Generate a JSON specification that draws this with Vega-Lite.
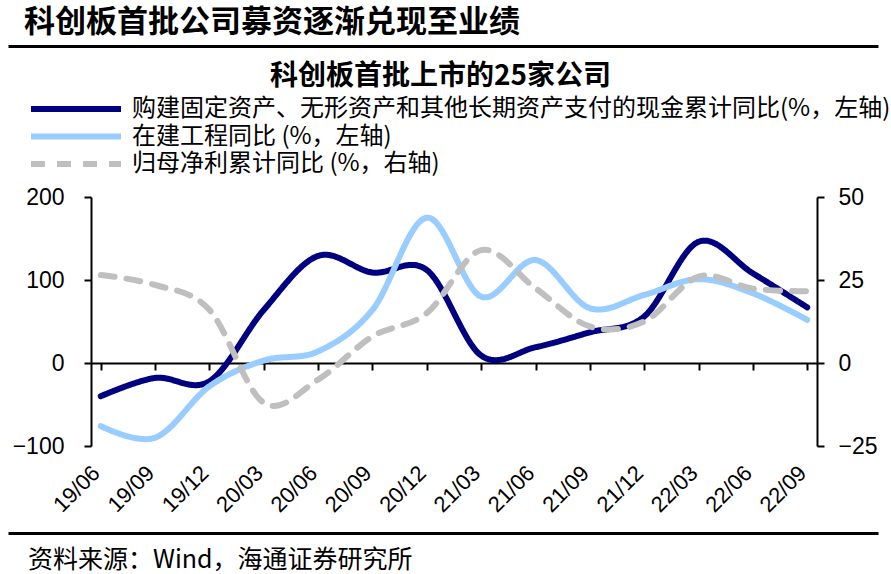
{
  "$schema": "https://vega.github.io/schema/vega-lite/v6.json",
  "padding": {"left": 7, "top": 7, "right": 0, "bottom": 0},
  "background": "white",
  "config": {
    "view": {"stroke": null},
    "axis": {"grid": false, "labelFont": "Liberation Sans", "labelColor": "black", "domainColor": "black", "tickColor": "black"}
  },
  "datasets": {
    "frame": [{"v": 0}],
    "series": [
      {"d": "19/06", "s": "购建固定资产、无形资产和其他长期资产支付的现金累计同比(%，左轴)", "v": -40},
      {"d": "19/09", "s": "购建固定资产、无形资产和其他长期资产支付的现金累计同比(%，左轴)", "v": -18},
      {"d": "19/12", "s": "购建固定资产、无形资产和其他长期资产支付的现金累计同比(%，左轴)", "v": -22},
      {"d": "20/03", "s": "购建固定资产、无形资产和其他长期资产支付的现金累计同比(%，左轴)", "v": 64},
      {"d": "20/06", "s": "购建固定资产、无形资产和其他长期资产支付的现金累计同比(%，左轴)", "v": 129},
      {"d": "20/09", "s": "购建固定资产、无形资产和其他长期资产支付的现金累计同比(%，左轴)", "v": 109},
      {"d": "20/12", "s": "购建固定资产、无形资产和其他长期资产支付的现金累计同比(%，左轴)", "v": 112},
      {"d": "21/03", "s": "购建固定资产、无形资产和其他长期资产支付的现金累计同比(%，左轴)", "v": 9},
      {"d": "21/06", "s": "购建固定资产、无形资产和其他长期资产支付的现金累计同比(%，左轴)", "v": 19},
      {"d": "21/09", "s": "购建固定资产、无形资产和其他长期资产支付的现金累计同比(%，左轴)", "v": 37},
      {"d": "21/12", "s": "购建固定资产、无形资产和其他长期资产支付的现金累计同比(%，左轴)", "v": 56},
      {"d": "22/03", "s": "购建固定资产、无形资产和其他长期资产支付的现金累计同比(%，左轴)", "v": 146},
      {"d": "22/06", "s": "购建固定资产、无形资产和其他长期资产支付的现金累计同比(%，左轴)", "v": 108},
      {"d": "22/09", "s": "购建固定资产、无形资产和其他长期资产支付的现金累计同比(%，左轴)", "v": 67},
      {"d": "19/06", "s": "在建工程同比 (%，左轴)", "v": -76},
      {"d": "19/09", "s": "在建工程同比 (%，左轴)", "v": -90},
      {"d": "19/12", "s": "在建工程同比 (%，左轴)", "v": -28},
      {"d": "20/03", "s": "在建工程同比 (%，左轴)", "v": 3},
      {"d": "20/06", "s": "在建工程同比 (%，左轴)", "v": 14},
      {"d": "20/09", "s": "在建工程同比 (%，左轴)", "v": 64},
      {"d": "20/12", "s": "在建工程同比 (%，左轴)", "v": 175},
      {"d": "21/03", "s": "在建工程同比 (%，左轴)", "v": 80},
      {"d": "21/06", "s": "在建工程同比 (%，左轴)", "v": 124},
      {"d": "21/09", "s": "在建工程同比 (%，左轴)", "v": 66},
      {"d": "21/12", "s": "在建工程同比 (%，左轴)", "v": 82},
      {"d": "22/03", "s": "在建工程同比 (%，左轴)", "v": 101},
      {"d": "22/06", "s": "在建工程同比 (%，左轴)", "v": 84},
      {"d": "22/09", "s": "在建工程同比 (%，左轴)", "v": 52},
      {"d": "19/06", "s": "归母净利累计同比 (%，右轴)", "v": 26.5},
      {"d": "19/09", "s": "归母净利累计同比 (%，右轴)", "v": 23.5},
      {"d": "19/12", "s": "归母净利累计同比 (%，右轴)", "v": 16},
      {"d": "20/03", "s": "归母净利累计同比 (%，右轴)", "v": -12},
      {"d": "20/06", "s": "归母净利累计同比 (%，右轴)", "v": -5},
      {"d": "20/09", "s": "归母净利累计同比 (%，右轴)", "v": 8},
      {"d": "20/12", "s": "归母净利累计同比 (%，右轴)", "v": 15},
      {"d": "21/03", "s": "归母净利累计同比 (%，右轴)", "v": 34},
      {"d": "21/06", "s": "归母净利累计同比 (%，右轴)", "v": 22.5},
      {"d": "21/09", "s": "归母净利累计同比 (%，右轴)", "v": 11},
      {"d": "21/12", "s": "归母净利累计同比 (%，右轴)", "v": 12.5},
      {"d": "22/03", "s": "归母净利累计同比 (%，右轴)", "v": 26},
      {"d": "22/06", "s": "归母净利累计同比 (%，右轴)", "v": 22.4},
      {"d": "22/09", "s": "归母净利累计同比 (%，右轴)", "v": 21.6}
    ]
  },
  "spacing": 17,
  "resolve": {"legend": {"color": "independent", "strokeDash": "independent"}},
  "vconcat": [
    {
      "width": 870,
      "height": 1,
      "title": {"text": "科创板首批公司募资逐渐兑现至业绩", "anchor": "start", "frame": "group", "font": "Noto Sans CJK SC", "fontSize": 31, "fontWeight": "bold", "color": "black", "dx": 16, "offset": 6},
      "data": {"name": "frame"},
      "mark": {"type": "point", "opacity": 0, "size": 1},
      "encoding": {
        "x": {"field": "v", "type": "quantitative", "scale": {"domain": [0, 1]}, "axis": {"orient": "bottom", "labels": false, "ticks": false, "title": null, "minExtent": 0, "domainWidth": 3, "domainColor": "black"}}
      }
    },
    {
      "width": 870,
      "height": 249,
      "title": {"text": "科创板首批上市的25家公司", "anchor": "middle", "frame": "bounds", "font": "Noto Sans CJK SC", "fontSize": 28, "fontWeight": "bold", "color": "black", "offset": 6, "dx": -9},
      "data": {"name": "series"},
      "layer": [
        {
          "transform": [{"filter": "datum.s !== '归母净利累计同比 (%，右轴)'"}],
          "mark": {"type": "line", "interpolate": "cardinal", "tension": 0, "strokeWidth": 6, "strokeCap": "round"},
          "encoding": {
            "x": {"field": "d", "type": "ordinal", "sort": null, "scale": {"type": "point", "padding": 0.18, "range": [83, 809]}, "axis": {"labelAngle": -45, "labelAlign": "right", "labelBaseline": "alphabetic", "labelFontSize": 22, "labelPadding": 28, "ticks": false, "domain": false, "title": null}},
            "y": {"field": "v", "type": "quantitative", "scale": {"domain": [-100, 200]}, "axis": {"orient": "left", "offset": -83, "values": [-100, 0, 100, 200], "title": null, "labelFontSize": 23, "labelPadding": 20, "tickSize": 7, "tickWidth": 2, "domainWidth": 2}},
            "color": {"field": "s", "type": "nominal", "scale": {"domain": ["购建固定资产、无形资产和其他长期资产支付的现金累计同比(%，左轴)", "在建工程同比 (%，左轴)", "归母净利累计同比 (%，右轴)"], "range": ["#000080", "#99CCFF", "#BFBFBF"]},
              "legend": {"orient": "none", "legendX": 20, "legendY": -100, "padding": 0, "title": null, "symbolType": "stroke", "symbolSize": 8100, "symbolStrokeWidth": 6, "labelFont": "Noto Sans CJK SC", "labelFontSize": 24, "labelColor": "black", "labelLimit": 1000, "labelOffset": 8, "rowPadding": 3.5, "clipHeight": 24}},
            "strokeDash": {"field": "s", "type": "nominal", "scale": {"domain": ["购建固定资产、无形资产和其他长期资产支付的现金累计同比(%，左轴)", "在建工程同比 (%，左轴)", "归母净利累计同比 (%，右轴)"], "range": [[1, 0], [1, 0], [14, 12]]}}
          }
        },
        {
          "transform": [{"filter": "datum.s === '归母净利累计同比 (%，右轴)'"}],
          "mark": {"type": "line", "interpolate": "cardinal", "tension": 0, "strokeWidth": 6, "strokeCap": "round"},
          "encoding": {
            "x": {"field": "d", "type": "ordinal", "sort": null, "axis": {"orient": "bottom", "offset": -83, "labels": false, "ticks": true, "tickSize": 7, "tickWidth": 2, "domain": true, "domainWidth": 2, "title": null}},
            "y": {"field": "v", "type": "quantitative", "scale": {"domain": [-25, 50]}, "axis": {"orient": "right", "offset": -61, "values": [-25, 0, 25, 50], "title": null, "labelFontSize": 23, "labelPadding": 14, "tickSize": 7, "tickWidth": 2, "domainWidth": 2}},
            "color": {"field": "s", "type": "nominal"},
            "strokeDash": {"field": "s", "type": "nominal"}
          }
        }
      ],
      "resolve": {"scale": {"y": "independent"}, "axis": {"x": "independent", "y": "independent"}}
    },
    {
      "width": 870,
      "height": 1,
      "title": {"text": "资料来源：Wind，海通证券研究所", "orient": "bottom", "anchor": "start", "frame": "group", "font": "Noto Sans CJK SC", "fontSize": 25, "fontWeight": "normal", "color": "black", "dx": 20, "offset": 14},
      "data": {"name": "frame"},
      "mark": {"type": "point", "opacity": 0, "size": 1},
      "encoding": {
        "x": {"field": "v", "type": "quantitative", "scale": {"domain": [0, 1]}, "axis": {"orient": "top", "labels": false, "ticks": false, "title": null, "minExtent": 0, "domainWidth": 3, "domainColor": "black"}}
      }
    }
  ]
}
